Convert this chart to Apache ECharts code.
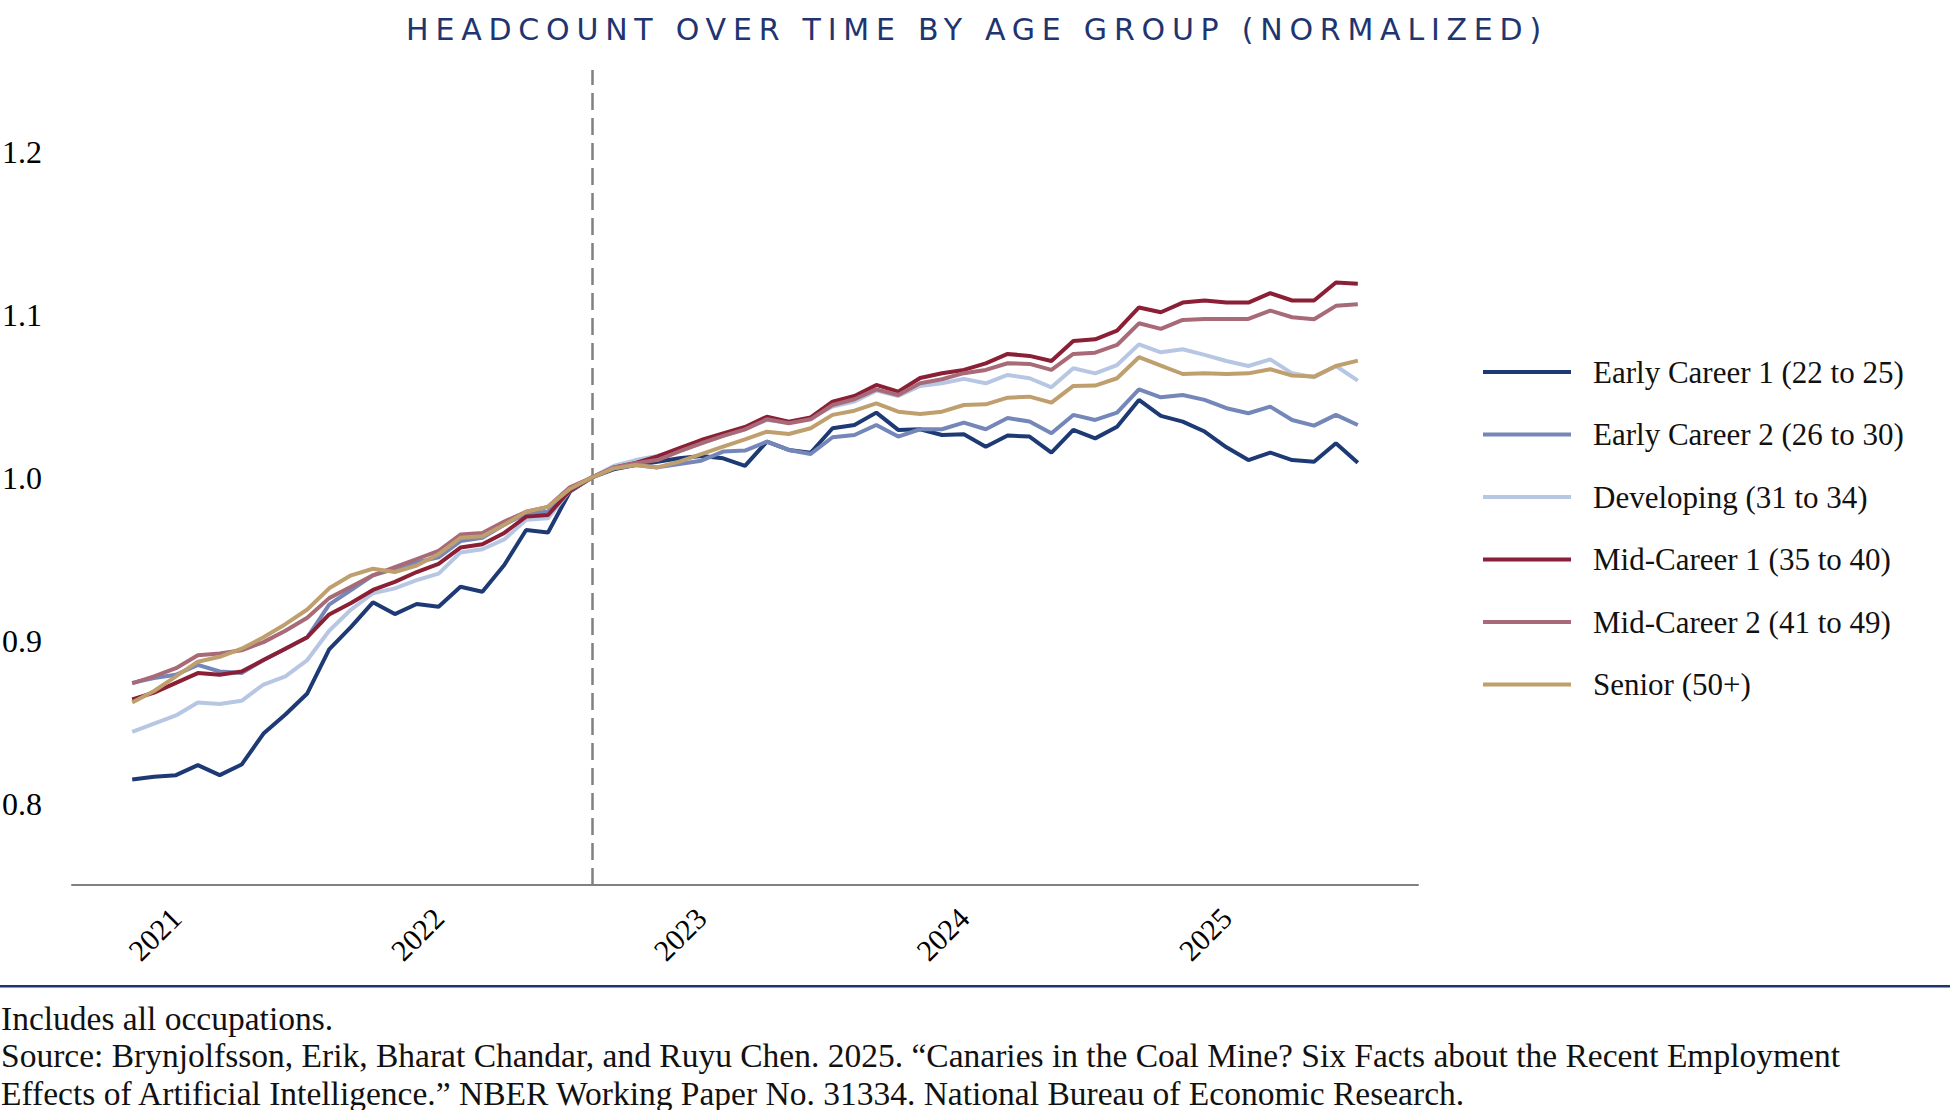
<!DOCTYPE html>
<html>
<head>
<meta charset="utf-8">
<script src="https://cdn.jsdelivr.net/npm/echarts@6/dist/echarts.min.js"></script>
<style>
  html, body { margin: 0; padding: 0; background: #ffffff; }
  #chart { width: 1950px; height: 1110px; }
</style>
</head>
<body>
<div id="chart"></div>
<script>
// ---------- DATA ----------
const TITLE = 'HEADCOUNT OVER TIME BY AGE GROUP (NORMALIZED)';

const months = [
  '2020-11','2020-12',
  '2021-01','2021-02','2021-03','2021-04','2021-05','2021-06','2021-07','2021-08','2021-09','2021-10','2021-11','2021-12',
  '2022-01','2022-02','2022-03','2022-04','2022-05','2022-06','2022-07','2022-08','2022-09','2022-10','2022-11','2022-12',
  '2023-01','2023-02','2023-03','2023-04','2023-05','2023-06','2023-07','2023-08','2023-09','2023-10','2023-11','2023-12',
  '2024-01','2024-02','2024-03','2024-04','2024-05','2024-06','2024-07','2024-08','2024-09','2024-10','2024-11','2024-12',
  '2025-01','2025-02','2025-03','2025-04','2025-05','2025-06','2025-07'
];
const yearLabels = ['2021', '2022', '2023', '2024', '2025'];
const referenceMonth = '2022-08';
const yTickLabels = [0.8, 0.9, 1.0, 1.1, 1.2];

const seriesNames = [
  'Early Career 1 (22 to 25)',
  'Early Career 2 (26 to 30)',
  'Developing (31 to 34)',
  'Mid-Career 1 (35 to 40)',
  'Mid-Career 2 (41 to 49)',
  'Senior (50+)'
];

const earlyCareer1 = [
  0.8147, 0.8164, 0.8174, 0.8235, 0.8174, 0.8239, 0.8429, 0.8546, 0.8675, 0.8945,
  0.9084, 0.9234, 0.9162, 0.9224, 0.9207, 0.9330, 0.9299, 0.9463, 0.9678, 0.9663,
  0.9913, 1.0000, 1.0050, 1.0077, 1.0097, 1.0118, 1.0132, 1.0118, 1.0071, 1.0220,
  1.0169, 1.0152, 1.0302, 1.0322, 1.0398, 1.0292, 1.0296, 1.0261, 1.0265, 1.0189,
  1.0258, 1.0251, 1.0153, 1.0292, 1.0240, 1.0312, 1.0476, 1.0378, 1.0343, 1.0282,
  1.0185, 1.0107, 1.0153, 1.0107, 1.0097, 1.0210, 1.0091
];
const earlyCareer2 = [
  0.874, 0.877, 0.879, 0.885, 0.881, 0.880, 0.888, 0.895, 0.902, 0.922,
  0.931, 0.940, 0.944, 0.948, 0.951, 0.961, 0.963, 0.971, 0.978, 0.979,
  0.993, 1.000, 1.0056, 1.0077, 1.0062, 1.0083, 1.0103, 1.0159, 1.0165, 1.0220,
  1.0169, 1.0144, 1.0247, 1.0261, 1.0322, 1.0251, 1.0296, 1.0296, 1.0337, 1.0296,
  1.0365, 1.0343, 1.0271, 1.0384, 1.0353, 1.0398, 1.0541, 1.0492, 1.0506, 1.0476,
  1.0425, 1.0394, 1.0435, 1.0353, 1.0318, 1.0384, 1.0322
];
const developing = [
  0.844, 0.849, 0.854, 0.862, 0.861, 0.863, 0.873, 0.878, 0.888, 0.906,
  0.919, 0.929, 0.932, 0.937, 0.941, 0.954, 0.956, 0.962, 0.974, 0.975,
  0.992, 1.000, 1.0071, 1.0107, 1.0132, 1.0165, 1.0210, 1.0255, 1.0296, 1.0353,
  1.0337, 1.0363, 1.0435, 1.0466, 1.0533, 1.0500, 1.0562, 1.0578, 1.0605, 1.0578,
  1.0629, 1.0609, 1.0553, 1.0670, 1.0639, 1.0690, 1.0817, 1.0768, 1.0787, 1.0752,
  1.0715, 1.0684, 1.0725, 1.0639, 1.0615, 1.0684, 1.0594
];
const midCareer1 = [
  0.8638, 0.868, 0.874, 0.880, 0.879, 0.881, 0.888, 0.895, 0.902, 0.916,
  0.923, 0.931, 0.936, 0.942, 0.947, 0.957, 0.959, 0.966, 0.976, 0.977,
  0.992, 1.000, 1.0060, 1.0090, 1.0130, 1.0180, 1.0230, 1.0270, 1.0310, 1.0373,
  1.0343, 1.0369, 1.0465, 1.0500, 1.0568, 1.0527, 1.0610, 1.0640, 1.0660, 1.0700,
  1.0758, 1.0746, 1.0715, 1.0838, 1.0848, 1.0901, 1.1043, 1.1014, 1.1073, 1.1086,
  1.1073, 1.1073, 1.1131, 1.1086, 1.1086, 1.1196, 1.1188
];
const midCareer2 = [
  0.8737, 0.878, 0.883, 0.891, 0.892, 0.894, 0.899, 0.906, 0.914, 0.926,
  0.933, 0.940, 0.945, 0.950, 0.955, 0.965, 0.966, 0.973, 0.979, 0.982,
  0.994, 1.000, 1.0062, 1.0087, 1.0107, 1.0160, 1.0210, 1.0255, 1.0295, 1.0357,
  1.0333, 1.0357, 1.0445, 1.0480, 1.0541, 1.0506, 1.0578, 1.0603, 1.0640, 1.0660,
  1.0701, 1.0697, 1.0660, 1.0758, 1.0766, 1.0813, 1.0946, 1.0912, 1.0967, 1.0973,
  1.0973, 1.0973, 1.1024, 1.0983, 1.0971, 1.1053, 1.1063
];
const senior = [
  0.862, 0.869, 0.878, 0.887, 0.890, 0.895, 0.902, 0.910, 0.919, 0.932,
  0.940, 0.944, 0.942, 0.946, 0.953, 0.963, 0.964, 0.971, 0.979, 0.982,
  0.993, 1.000, 1.0056, 1.0077, 1.0062, 1.0097, 1.0144, 1.0189, 1.0234, 1.0281,
  1.0267, 1.0302, 1.0384, 1.0410, 1.0455, 1.0404, 1.0390, 1.0404, 1.0445, 1.0449,
  1.0490, 1.0496, 1.0459, 1.0562, 1.0564, 1.0609, 1.0738, 1.0686, 1.0635, 1.0639,
  1.0635, 1.0639, 1.0664, 1.0625, 1.0619, 1.0684, 1.0717
];

const footerLines = [
  'Includes all occupations.',
  'Source: Brynjolfsson, Erik, Bharat Chandar, and Ruyu Chen. 2025. \u201cCanaries in the Coal Mine? Six Facts about the Recent Employment',
  'Effects of Artificial Intelligence.\u201d NBER Working Paper No. 31334. National Bureau of Economic Research.'
];

// ---------- STYLE ----------
const colors = ['#1e3a74', '#7487b8', '#b7c7e3', '#8a1f35', '#a86a77', '#bf9f6d'];
const serif = "'Liberation Serif', 'Times New Roman', serif";
const navy = '#1f3570';

const allSeries = [earlyCareer1, earlyCareer2, developing, midCareer1, midCareer2, senior];
const yearTicks = yearLabels.map(y => months.indexOf(y + '-01'));
const refIndex = months.indexOf(referenceMonth);

const chart = echarts.init(document.getElementById('chart'), null, { renderer: 'svg' });

const series = allSeries.map((vals, k) => {
  const s = {
    name: seriesNames[k],
    type: 'line',
    data: vals.map((v, i) => [i, v]),
    showSymbol: false,
    symbol: 'none',
    color: colors[k],
    lineStyle: { color: colors[k], width: 4 },
    emphasis: { disabled: true },
    z: 2 + k
  };
  if (k === 0) {
    s.markLine = {
      silent: true,
      symbol: ['none', 'none'],
      label: { show: false },
      lineStyle: { color: '#808080', type: [17, 8], width: 2.5 },
      data: [{ xAxis: refIndex }],
      z: 1
    };
  }
  return s;
});

chart.setOption({
  animation: false,
  backgroundColor: '#ffffff',
  grid: { left: 72, right: 532, top: 70, bottom: 225, containLabel: false, outerBoundsMode: 'none' },
  xAxis: {
    type: 'value',
    min: -2.75,
    max: months.length - 1 + 2.75,
    axisLine: { show: true, lineStyle: { color: '#808080', width: 2 } },
    axisTick: { show: false },
    splitLine: { show: false },
    axisLabel: {
      customValues: yearTicks,
      rotate: 45,
      margin: 28,
      fontSize: 30,
      fontFamily: serif,
      color: '#000',
      formatter: v => yearLabels[yearTicks.indexOf(v)]
    }
  },
  yAxis: {
    type: 'value',
    min: 0.75,
    max: 1.25,
    axisLine: { show: false },
    axisTick: { show: false },
    splitLine: { show: false },
    axisLabel: {
      customValues: yTickLabels,
      align: 'left',
      margin: 70,
      fontSize: 32,
      fontFamily: serif,
      color: '#000',
      formatter: v => v.toFixed(1)
    }
  },
  legend: {
    orient: 'vertical',
    left: 1478,
    top: 350,
    icon: 'rect',
    itemWidth: 88,
    itemHeight: 4,
    itemGap: 28.5,
    selectedMode: false,
    data: seriesNames,
    textStyle: { fontFamily: serif, fontSize: 31, color: '#111', lineHeight: 34, padding: [0, 0, 0, 17] }
  },
  graphic: [
    { type: 'text', x: 977, y: 29, silent: true,
      style: { text: TITLE, fontFamily: "'DejaVu Sans', sans-serif", fontSize: 30, fill: navy, align: 'center', verticalAlign: 'middle' } },
    { type: 'rect', silent: true, shape: { x: 0, y: 985, width: 1950, height: 2.5 }, style: { fill: navy } },
    { type: 'text', x: 1, y: 1018, silent: true,
      style: { text: footerLines[0], fontFamily: serif, fontSize: 33.5, fill: '#111', align: 'left', verticalAlign: 'middle' } },
    { type: 'text', x: 1, y: 1055.5, silent: true,
      style: { text: footerLines[1], fontFamily: serif, fontSize: 33.5, fill: '#111', align: 'left', verticalAlign: 'middle' } },
    { type: 'text', x: 1, y: 1093, silent: true,
      style: { text: footerLines[2], fontFamily: serif, fontSize: 33.5, fill: '#111', align: 'left', verticalAlign: 'middle' } }
  ],
  series: series
});

// widen the title's tracking to match the reference's letter-spaced heading
function trackTitle() {
  const target = 1135;
  document.querySelectorAll('#chart svg text').forEach(t => {
    if (t.textContent === TITLE && !t.getAttribute('data-tracked')) {
      t.setAttribute('letter-spacing', '0px');
      const w = t.getComputedTextLength();
      const sp = Math.max(0, (target - w) / (TITLE.length - 1));
      t.setAttribute('letter-spacing', sp.toFixed(2) + 'px');
      t.setAttribute('data-tracked', '1');
    }
  });
}
chart.on('finished', trackTitle);
setTimeout(trackTitle, 50);
setTimeout(trackTitle, 300);
</script>
</body>
</html>
